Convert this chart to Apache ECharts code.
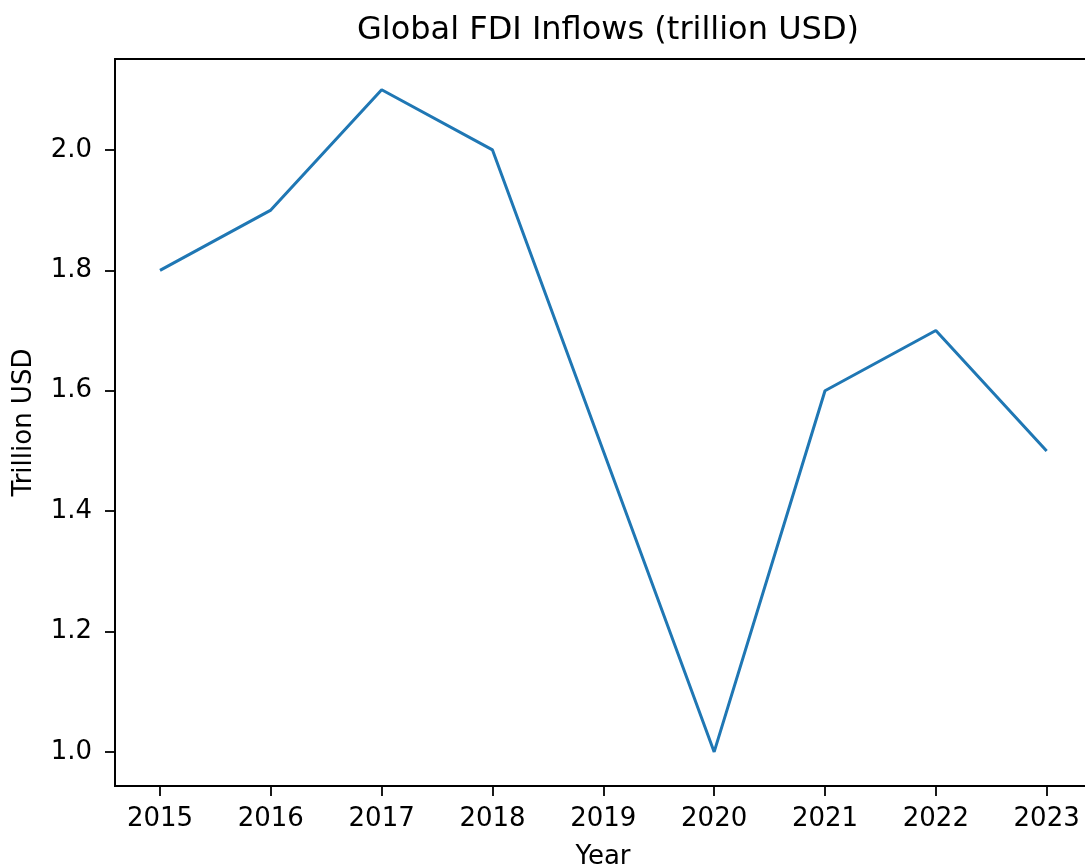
<!DOCTYPE html>
<html>
<head>
<meta charset="utf-8">
<script src="https://cdn.jsdelivr.net/npm/echarts@6/dist/echarts.min.js"></script>
<style>html,body{margin:0;padding:0;background:#fff}#c{width:1085px;height:867px}</style>
</head>
<body>
<div id="c"></div>
<script>
const years = [2015, 2016, 2017, 2018, 2019, 2020, 2021, 2022, 2023];
const fdi = [1.8, 1.9, 2.1, 2.0, 1.5, 1.0, 1.6, 1.7, 1.5];
const yTicks = [1.0, 1.2, 1.4, 1.6, 1.8, 2.0];
const titleText = 'Global FDI Inflows (trillion USD)';
const xName = 'Year';
const yName = 'Trillion USD';

const font = 'DejaVu Sans';
const chart = echarts.init(document.getElementById('c'), null, {renderer: 'canvas'});
chart.setOption({
  animation: false,
  backgroundColor: '#fff',
  title: {
    text: titleText, left: 603, top: 10, textAlign: 'center',
    textStyle: {fontFamily: font, fontSize: 32, fontWeight: 'normal', color: '#000'}
  },
  grid: {
    left: 115, top: 59, width: 976, height: 727,
    outerBoundsMode: 'none', containLabel: false,
    show: true, borderColor: '#000', borderWidth: 1.8, backgroundColor: 'transparent'
  },
  xAxis: {
    type: 'value', min: 2014.594, max: 2023.4,
    name: xName, nameLocation: 'middle', nameGap: 58,
    nameTextStyle: {fontFamily: font, fontSize: 26, color: '#000'},
    axisLine: {show: true, lineStyle: {color: '#000', width: 1.8}},
    axisTick: {show: true, customValues: years, length: 10, lineStyle: {color: '#000', width: 1.8}},
    axisLabel: {customValues: years, margin: 20, fontFamily: font, fontSize: 26, color: '#000', formatter: v => String(v)},
    splitLine: {show: false}
  },
  yAxis: {
    type: 'value', min: 0.9434, max: 2.151,
    name: yName, nameLocation: 'middle', nameGap: 78, nameRotate: 90,
    nameTextStyle: {fontFamily: font, fontSize: 26, color: '#000'},
    axisLine: {show: true, lineStyle: {color: '#000', width: 1.8}},
    axisTick: {show: true, customValues: yTicks, length: 10, lineStyle: {color: '#000', width: 1.8}},
    axisLabel: {customValues: yTicks, margin: 23, fontFamily: font, fontSize: 26, color: '#000', formatter: v => v.toFixed(1)},
    splitLine: {show: false}
  },
  series: [{
    type: 'line',
    data: years.map((y, i) => [y, fdi[i]]),
    showSymbol: false,
    lineStyle: {color: '#1f77b4', width: 3},
    itemStyle: {color: '#1f77b4'}
  }]
});
</script>
</body>
</html>
